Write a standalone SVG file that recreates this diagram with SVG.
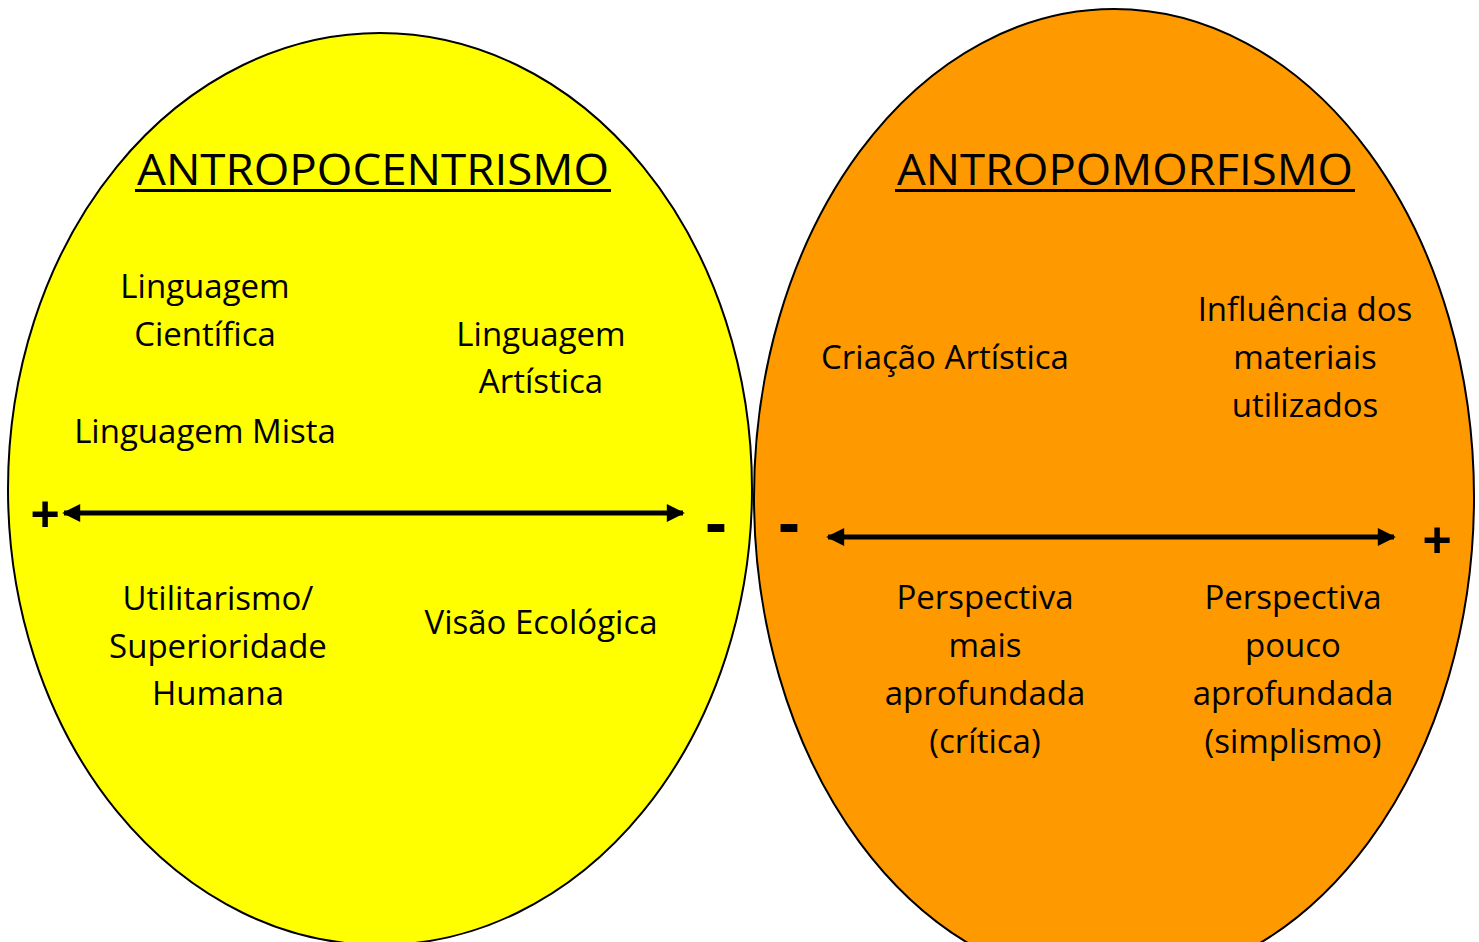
<svg xmlns="http://www.w3.org/2000/svg" width="1479" height="942" viewBox="0 0 1479 942">
<style>
.t{font-family:"Comic Sans MS","Open Sans","DejaVu Sans",sans-serif;font-size:33px;fill:#000;text-anchor:middle}
.h{font-family:"Comic Sans MS","Open Sans","DejaVu Sans",sans-serif;font-size:43px;fill:#000;text-anchor:middle}
.s{font-family:"Liberation Sans",Arial,sans-serif;font-weight:bold;font-size:50px;fill:#000;text-anchor:middle}
.m{font-family:"Liberation Sans",Arial,sans-serif;font-weight:bold;font-size:66px;fill:#000;text-anchor:middle}
.e{stroke:#000;stroke-width:2}
.ar{stroke:#000;stroke-width:5;fill:none}
</style>
<defs>
<marker id="ah" viewBox="0 0 10 10" refX="9" refY="5" markerWidth="4" markerHeight="3.6" orient="auto-start-reverse" markerUnits="strokeWidth">
<path d="M0,0 L10,5 L0,10 Z" fill="#000"/>
</marker>
</defs>
<rect width="1479" height="942" fill="#fff"/>
<g id="antropocentrismo">
<ellipse class="e" cx="380" cy="489" rx="372" ry="456" fill="#ffff00"/>
<text class="h" x="373" y="185" textLength="472" lengthAdjust="spacingAndGlyphs">ANTROPOCENTRISMO</text>
<rect x="135" y="189" width="476" height="3" fill="#000"/>
</g>
<g id="antropomorfismo">
<ellipse class="e" cx="1114" cy="497" rx="360" ry="488" fill="#ff9900"/>
<text class="h" x="1125" y="185" textLength="456" lengthAdjust="spacingAndGlyphs">ANTROPOMORFISMO</text>
<rect x="895" y="189" width="460" height="3" fill="#000"/>
</g>
<g id="ling-cientifica"><text class="t" x="205" y="298">Linguagem</text><text class="t" x="205" y="346">Científica</text></g>
<g id="ling-mista"><text class="t" x="205" y="443">Linguagem Mista</text></g>
<g id="ling-artistica"><text class="t" x="541" y="346">Linguagem</text><text class="t" x="541" y="393">Artística</text></g>
<g id="utilitarismo"><text class="t" x="218" y="610">Utilitarismo/</text><text class="t" x="218" y="658">Superioridade</text><text class="t" x="218" y="705">Humana</text></g>
<g id="visao"><text class="t" x="541" y="634">Visão Ecológica</text></g>
<g id="criacao"><text class="t" x="945" y="369">Criação Artística</text></g>
<g id="influencia"><text class="t" x="1305" y="321">Influência dos</text><text class="t" x="1305" y="369">materiais</text><text class="t" x="1305" y="417">utilizados</text></g>
<g id="persp-mais"><text class="t" x="985" y="609">Perspectiva</text><text class="t" x="985" y="657">mais</text><text class="t" x="985" y="705">aprofundada</text><text class="t" x="985" y="753">(crítica)</text></g>
<g id="persp-pouco"><text class="t" x="1293" y="609">Perspectiva</text><text class="t" x="1293" y="657">pouco</text><text class="t" x="1293" y="705">aprofundada</text><text class="t" x="1293" y="753">(simplismo)</text></g>
<g id="connectors">
<line class="ar" x1="64" y1="513" x2="683" y2="513" marker-start="url(#ah)" marker-end="url(#ah)"/>
<line class="ar" x1="828" y1="537" x2="1394" y2="537" marker-start="url(#ah)" marker-end="url(#ah)"/>
</g>
<g id="signs">
<text class="s" x="45" y="531">+</text>
<text class="m" x="716" y="545">-</text>
<text class="m" x="789" y="545">-</text>
<text class="s" x="1437" y="557">+</text>
</g>
</svg>
